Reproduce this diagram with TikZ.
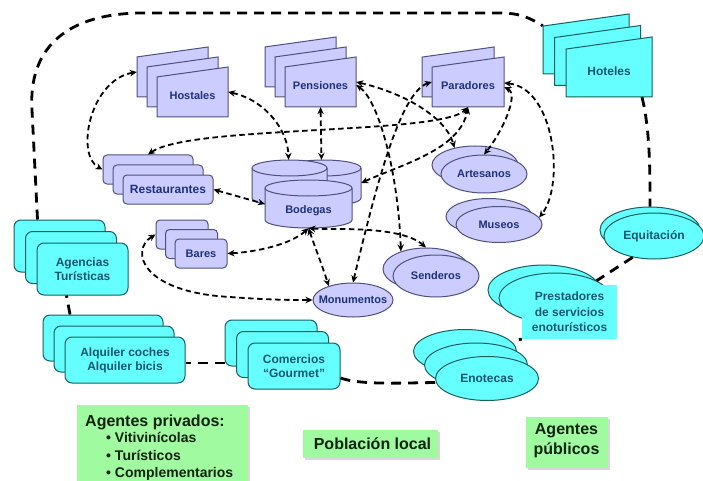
\documentclass[tikz,border=0pt]{standalone}
\usepackage{fontspec}
\setmainfont{Liberation Sans}
\usetikzlibrary{shapes.geometric,arrows.meta,calc,shadows}
\definecolor{lavfill}{RGB}{204,204,255}
\definecolor{lavline}{RGB}{80,80,125}
\definecolor{lavtext}{RGB}{30,50,120}
\definecolor{cynfill}{RGB}{102,255,255}
\definecolor{cynline}{RGB}{25,95,95}
\definecolor{cyntext}{RGB}{25,85,110}
\definecolor{grnfill}{RGB}{160,250,160}
\definecolor{grntext}{RGB}{15,35,15}
\tikzset{
  lav/.style={fill=lavfill, draw=lavline, line width=1pt},
  cyn/.style={fill=cynfill, draw=cynline, line width=1pt},
  lavtxt/.style={text=lavtext, font=\fontsize{11}{13}\selectfont\bfseries, align=center},
  cyntxt/.style={text=cyntext, font=\fontsize{12}{14}\selectfont\bfseries, align=center},
  lavdoc/.style={lav, lavtxt},
  cyndoc/.style={cyn, cyntxt},
  lavrr/.style={lav, lavtxt, rounded corners=4pt, inner sep=0pt},
  cynrr/.style={cyn, cyntxt, rounded corners=7pt, inner sep=0pt},
  lavel/.style={lav, lavtxt, ellipse, inner sep=0pt},
  cynel/.style={cyn, cyntxt, ellipse, inner sep=0pt},
  rel/.style={line width=1.8pt, dash pattern=on 5.5pt off 3.5pt,
    {Stealth[length=7pt,width=6.5pt]}-{Stealth[length=7pt,width=6.5pt]}},
  loopln/.style={line width=2.8pt, dash pattern=on 10pt off 7pt},
  greenbox/.style={fill=grnfill, inner sep=0pt,
    drop shadow={shadow xshift=2pt, shadow yshift=-2pt, fill=black!30}},
  grntxt/.style={text=grntext, font=\fontsize{16}{20}\selectfont\bfseries, align=center, inner sep=0pt},
  grnsmall/.style={text=grntext, font=\fontsize{14}{17}\selectfont\bfseries, inner sep=0pt}
}
% stack of plain nodes (rounded rectangles or ellipses)
\newcommand\stk[8]{%
  \foreach \k in {#5,...,2}{%
    \pgfmathsetmacro\f{\k-1}%
    \node[#7, minimum width=#3pt, minimum height=#4pt] (#1-\k) at ($(#2)-\f*(#6)$) {};}%
  \node[#7, minimum width=#3pt, minimum height=#4pt] (#1) at (#2) {#8};}
% stack of sheets with slanted top edge
\newcommand\docstk[8]{%
  \foreach \k in {#5,...,1}{%
    \pgfmathsetmacro\f{\k-1}%
    \coordinate (tmp) at ($(#2)-\f*(#6)$);%
    \path[#7] ($(tmp)+(-#3/2,#4/2)$) -- ($(tmp)+(-#3/2,-#4/2+0.14*#3)$)
      -- ($(tmp)+(#3/2,-#4/2)$) -- ($(tmp)+(#3/2,#4/2)$) -- cycle;%
    \node[inner sep=0pt, minimum width=#3pt, minimum height=#4pt] (#1-\k) at (tmp) {};}%
  \node[inner sep=0pt, minimum width=#3pt, minimum height=#4pt] (#1) at (#2) {};%
  \node[#7, draw=none, fill=none] (#1-t) at ($(#2)+(0,4)$) {#8};}
% cylinder: centre x, centre y, width, height
\newcommand\cyl[4]{%
  \path[lav] ({#1-#3/2},{#2-#4/2+8}) -- ({#1-#3/2},{#2+#4/2-8})
    arc[start angle=180,end angle=360,x radius={#3*0.5pt},y radius=8pt]
    -- ({#1+#3/2},{#2-#4/2+8})
    arc[start angle=0,end angle=180,x radius={#3*0.5pt},y radius=8pt] -- cycle;
  \draw[lavline, line width=1pt] ({#1-#3/2},{#2-#4/2+8})
    arc[start angle=180,end angle=360,x radius={#3*0.5pt},y radius=8pt];}

\begin{document}
\begin{tikzpicture}[x=1pt,y=-1pt]
\fill[white] (0,0) rectangle (703,481);
\useasboundingbox (0,0) rectangle (703,481);

% ---------- lavender group ----------
\docstk{hostales}{192.5,92}{71}{50}{3}{10,10}{lavdoc}{Hostales}
\docstk{pensiones}{320.5,82}{71}{50}{3}{10,10}{lavdoc}{Pensiones}
\docstk{paradores}{468,82}{72}{50}{2}{10,10}{lavdoc}{Paradores}
\stk{restaurantes}{168,189.5}{90}{29}{3}{10,10}{lavrr}{\fontsize{12}{13}\selectfont Restaurantes}
\stk{bares}{201,253.5}{52}{29}{3}{9.5,9.5}{lavrr}{Bares}
\cyl{323.5}{183}{75}{46}
\cyl{289.5}{183}{75}{46}
\cyl{308.5}{204}{87}{48}
\node[inner sep=0pt, minimum width=109pt, minimum height=46pt] (bodegas-b) at (306.5,183) {};
\node[inner sep=0pt, minimum width=87pt, minimum height=48pt] (bodegas) at (308.5,204) {};
\node[lavtxt] (bodegas-t) at (308.5,211) {Bodegas};
\stk{artesanos}{484,174}{86}{38}{2}{9,9}{lavel}{\makebox[0pt]{Artesanos}}
\stk{museos}{499,224.5}{86}{36}{2}{10,8}{lavel}{\makebox[0pt]{Museos}}
\stk{senderos}{436,276}{86}{42}{2}{10,7}{lavel}{\makebox[0pt]{Senderos}}
\node[lavel, minimum width=80pt, minimum height=34pt] (monumentos) at (353,300) {\makebox[0pt]{Monumentos}};

% ---------- cyan group ----------
\docstk{hoteles}{609,67}{86}{60}{3}{11.5,11.5}{cyndoc}{Hoteles}
\stk{agencias}{82.5,269}{91}{52}{3}{11.5,11.5}{cynrr}{Agencias\\Turísticas}
\stk{alquiler}{125,360}{120}{46}{3}{11,11}{cynrr}{Alquiler coches\\Alquiler bicis}
\stk{comercios}{294,366}{92}{46}{3}{11.5,11.5}{cynrr}{Comercios\\“Gourmet”}
\stk{equitacion}{654,236}{100}{46}{2}{4,6}{cynel}{\makebox[0pt]{Equitación}}
\stk{prestadores}{555,298}{112}{50}{2}{11,8}{cynel}{}
\node[fill=cynfill, cyntxt, inner sep=0pt, minimum width=95pt, minimum height=54pt, font=\fontsize{12}{15.5}\selectfont\bfseries] (pbox) at (569.5,312) {Prestadores\\de servicios\\enoturísticos};
\stk{enotecas}{487,378.5}{103}{44}{3}{11,13.5}{cynel}{\makebox[0pt]{Enotecas}}

% ---------- thick outer chain ----------
\draw[loopln] ([xshift=-22pt]agencias-3.north) -- (32,110)
  .. controls (28,45) and (70,14) .. (140,13) -- (500,13)
  .. controls (520,13) and (530,18) .. ([yshift=-12pt]hoteles-3.north west);
\draw[loopln] ([xshift=33pt]hoteles.south) .. controls (650,130) and (650,170) .. (equitacion-2.north);
\draw[loopln] (equitacion.-135) -- (prestadores-2.10);
\draw[loopln, dash pattern=on 3pt off 40pt] (pbox.south west) -- (enotecas-2.60);
\draw[loopln] ([yshift=-4pt]enotecas.west) .. controls (400,383) and (360,385) .. ([yshift=-12pt]comercios.east);
\draw[loopln] ([yshift=-20pt]comercios-3.west) -- ([yshift=-3pt]alquiler.east);
\draw[loopln] ([xshift=-33pt]alquiler-3.north) -- ([xshift=-16pt]agencias.south);

% ---------- thin relations ----------
\draw[rel] (hostales-3.west) .. controls (90,80) and (75,155) .. (restaurantes-3.west);
\draw[rel] (hostales.east) .. controls (265,100) and (288,130) .. ([xshift=-18pt]bodegas-b.north);
\draw[rel] (pensiones.south) -- ([xshift=15pt]bodegas-b.north);
\draw[rel] (restaurantes-3.north) .. controls (190,125) and (440,135) .. (paradores.south);
\draw[rel] (restaurantes.east) -- (bodegas.west);
\draw[rel] (pensiones.east) .. controls (400,92) and (445,115) .. (artesanos-2.140);
\draw[rel] ([yshift=-3pt]pensiones.east) .. controls (378,100) and (398,170) .. (senderos-2.145);
\draw[rel] (paradores.west) .. controls (400,92) and (375,190) .. (monumentos.north);
\draw[rel] ([yshift=-5pt]paradores.east) .. controls (520,95) and (500,135) .. (artesanos.north);
\draw[rel] ([yshift=-1pt]paradores.east) .. controls (555,88) and (565,185) .. (museos.10);
\draw[rel] (bodegas-b.east) .. controls (400,165) and (460,150) .. (paradores.south);
\draw[rel] (bodegas.south) .. controls (290,245) and (255,252) .. (bares.east);
\draw[rel] (bodegas.south) .. controls (316,250) and (322,265) .. (monumentos.150);
\draw[rel] (bodegas.south) .. controls (330,230) and (400,225) .. (senderos-2.north);
\draw[rel] (bares-3.west) .. controls (130,250) and (140,292) .. (230,297)
  .. controls (270,300) and (290,300) .. (monumentos.west);

% ---------- green labels ----------
\node[greenbox, minimum width=171pt, minimum height=80pt] (privados) at (162.5,445) {};
\node[grntxt, anchor=base west] (privados-t) at (85,426) {Agentes privados:};
\node[grnsmall, anchor=base west] (privados-1) at (106,442) {• Vitivinícolas};
\node[grnsmall, anchor=base west] (privados-2) at (106,460) {• Turísticos};
\node[grnsmall, anchor=base west] (privados-3) at (106,477) {• Complementarios};
\node[greenbox, minimum width=135pt, minimum height=28pt] (poblacion) at (370.5,444) {};
\node[grntxt] (poblacion-t) at (372.5,444) {Población local};
\node[greenbox, minimum width=82pt, minimum height=51pt] (publicos) at (567,442.5) {};
\node[grntxt] (publicos-t) at (566.5,441) {Agentes\\públicos};
\end{tikzpicture}
\end{document}
